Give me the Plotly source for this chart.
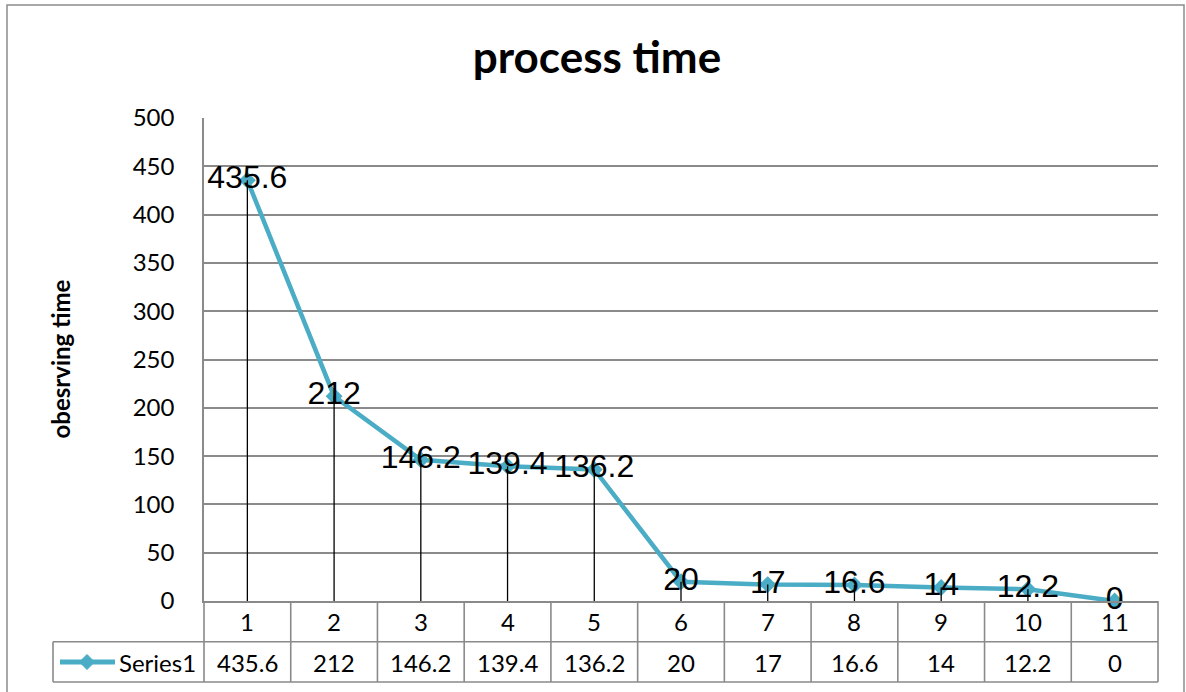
import plotly.graph_objects as go

# Observation data
categories = [1, 2, 3, 4, 5, 6, 7, 8, 9, 10, 11]
series_name = "Series1"
process_time = [435.6, 212, 146.2, 139.4, 136.2, 20, 17, 16.6, 14, 12.2, 0]
y_ticks = [0, 50, 100, 150, 200, 250, 300, 350, 400, 450, 500]

LINE_COLOR = "#4BACC6"
GRID_COLOR = "#8A8A8A"
TABLE_FONT = dict(family="Lato", size=24, color="black")

W, H = 1186, 692
ML, MR, MT, MB = 204, 28, 118, 91
PW, PH = W - ML - MR, H - MT - MB


def px_x(px):
    """Horizontal pixel -> paper coordinate."""
    return (px - ML) / PW


def px_y(py):
    """Vertical pixel -> paper coordinate."""
    return (H - MB - py) / PH


fig = go.Figure()

# main series
fig.add_trace(go.Scatter(
    x=categories, y=process_time, name=series_name,
    mode="lines+markers",
    line=dict(color=LINE_COLOR, width=4.5),
    marker=dict(symbol="diamond", size=13, color=LINE_COLOR),
    cliponaxis=False, showlegend=False, hoverinfo="x+y",
))

# drop lines from each point to the category axis
drop_x, drop_y = [], []
for c, v in zip(categories, process_time):
    drop_x += [c, c, None]
    drop_y += [v, 0, None]
fig.add_trace(go.Scatter(
    x=drop_x, y=drop_y, mode="lines",
    line=dict(color="black", width=1.3),
    showlegend=False, hoverinfo="skip", cliponaxis=False,
))

# data labels
fig.add_trace(go.Scatter(
    x=categories, y=process_time, mode="text",
    text=[f"{v:g}" for v in process_time],
    textposition="middle center",
    textfont=dict(family="Liberation Sans", size=32, color="black"),
    showlegend=False, hoverinfo="skip", cliponaxis=False,
))

shapes = []
annotations = []

row1_top, row1_bot, row2_bot = H - MB, 641.7, 682
line_style = dict(color=GRID_COLOR, width=1.6)

# data table: horizontal rules
for py in (row1_bot, row2_bot):
    shapes.append(dict(type="line", xref="paper", yref="paper",
                       x0=px_x(53), x1=1, y0=px_y(py), y1=px_y(py),
                       line=line_style))
# data table: vertical rules between categories
for k in range(len(categories) + 1):
    if k == 0:
        xr, xv = "paper", 0
    elif k == len(categories):
        xr, xv = "paper", 1
    else:
        xr, xv = "x", categories[k - 1] + 0.5
    shapes.append(dict(type="line", xref=xr, yref="paper",
                       x0=xv, x1=xv, y0=px_y(row1_top), y1=px_y(row2_bot),
                       line=line_style))
# legend cell left edge
shapes.append(dict(type="line", xref="paper", yref="paper",
                   x0=px_x(53), x1=px_x(53), y0=px_y(row1_bot), y1=px_y(row2_bot),
                   line=line_style))

# legend key inside the table
key_y = px_y(662)
shapes.append(dict(type="line", xref="paper", yref="paper",
                   x0=px_x(60), x1=px_x(115), y0=key_y, y1=key_y,
                   line=dict(color=LINE_COLOR, width=5)))
cx, cy, r = 87, 662, 7.5
shapes.append(dict(
    type="path", xref="paper", yref="paper",
    path=(f"M {px_x(cx - r)} {px_y(cy)} L {px_x(cx)} {px_y(cy - r)} "
          f"L {px_x(cx + r)} {px_y(cy)} L {px_x(cx)} {px_y(cy + r)} Z"),
    fillcolor=LINE_COLOR, line=dict(color=LINE_COLOR, width=1),
))
annotations.append(dict(xref="paper", yref="paper", x=px_x(117), y=key_y,
                        text=series_name, showarrow=False,
                        xanchor="left", yanchor="middle", font=TABLE_FONT))

# table rows: category labels and values
for c, v in zip(categories, process_time):
    annotations.append(dict(xref="x", yref="paper", x=c, y=px_y(621.5),
                            text=str(c), showarrow=False,
                            xanchor="center", yanchor="middle", font=TABLE_FONT))
    annotations.append(dict(xref="x", yref="paper", x=c, y=px_y(662),
                            text=f"{v:g}", showarrow=False,
                            xanchor="center", yanchor="middle", font=TABLE_FONT))

# y-axis title
annotations.append(dict(xref="paper", yref="paper", x=px_x(60), y=0.5,
                        text="<b>obesrving time</b>", textangle=-90,
                        showarrow=False, xanchor="center", yanchor="middle",
                        font=dict(family="Lato", size=24, color="black")))

# outer chart border
shapes.append(dict(type="rect", xref="paper", yref="paper",
                   x0=px_x(7), x1=px_x(1184), y0=px_y(710), y1=px_y(5),
                   line=dict(color="#8C8C8C", width=1.5), layer="below"))

fig.update_layout(
    width=W, height=H,
    margin=dict(l=ML, r=MR, t=MT, b=MB),
    paper_bgcolor="white", plot_bgcolor="white",
    title=dict(text="<b>process time</b>", x=597 / W, xanchor="center",
               xref="container", yref="container", y=1 - 58 / H,
               yanchor="middle",
               font=dict(family="Lato", size=44, color="black")),
    xaxis=dict(range=[0.5, 11.5], showticklabels=False, ticks="",
               showgrid=False, zeroline=False, showline=True,
               linecolor=GRID_COLOR, linewidth=1.6, fixedrange=True),
    yaxis=dict(range=[0, 500], tickvals=y_ticks, ticks="",
               ticklabelstandoff=23,
               tickfont=dict(family="Lato", size=24, color="black"),
               showgrid=True, gridcolor=GRID_COLOR, gridwidth=1.6,
               zeroline=False, showline=True, linecolor=GRID_COLOR,
               linewidth=1.6, fixedrange=True),
    shapes=shapes,
    annotations=annotations,
    showlegend=False,
)

fig.write_html("out.html")
